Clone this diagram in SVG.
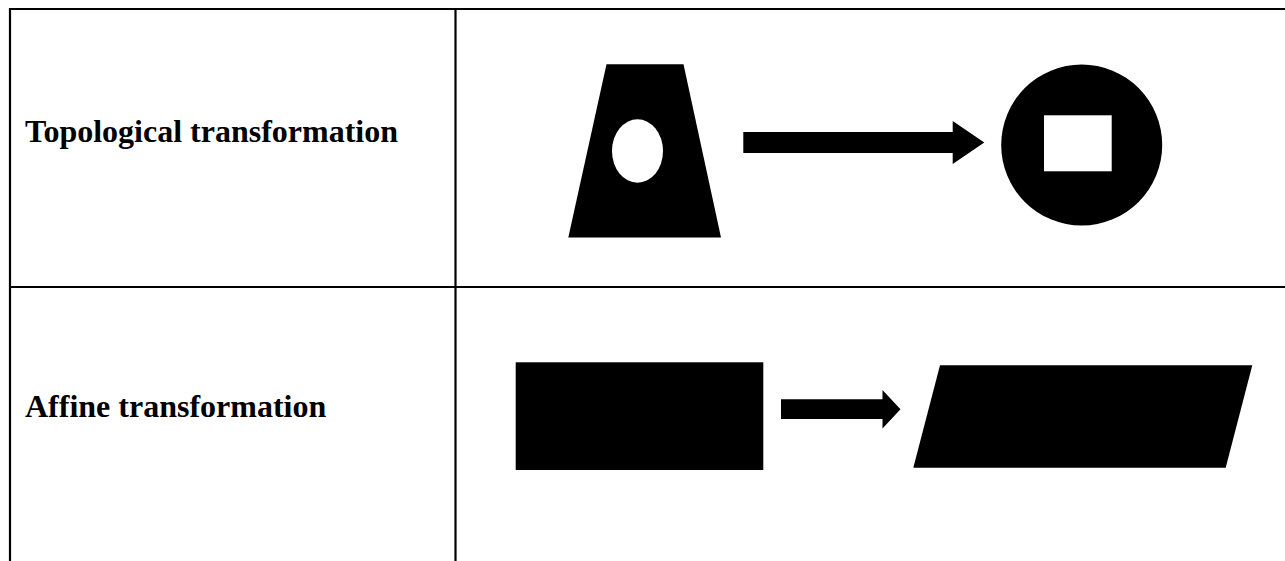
<svg xmlns="http://www.w3.org/2000/svg" width="1285" height="561" viewBox="0 0 1285 561">
<style>
.grid{stroke:#000;stroke-width:2.2;fill:none}
.lbl{font-family:"Liberation Serif","Times New Roman",serif;font-weight:bold;font-size:32px;fill:#000}
.shape{fill:#000}
.hole{fill:#fff}
</style>
<rect width="1285" height="561" fill="#fff"/>
<g id="table">
<line class="grid" x1="9" y1="9" x2="1285" y2="9"/>
<line class="grid" x1="10" y1="8" x2="10" y2="561"/>
<line class="grid" x1="455.5" y1="8" x2="455.5" y2="561"/>
<line class="grid" x1="9" y1="287" x2="1285" y2="287"/>
</g>
<g id="label-topological">
<text class="lbl" x="25" y="142">Topological transformation</text>
</g>
<g id="label-affine">
<text class="lbl" x="25" y="417">Affine transformation</text>
</g>
<g id="trapezoid">
<path class="shape" d="M606.5 64.3 L683.5 64.3 L721 237.5 L568.3 237.5 Z"/>
<ellipse class="hole" cx="637.5" cy="151" rx="25.5" ry="31.7"/>
</g>
<g id="circle">
<circle class="shape" cx="1081.7" cy="145" r="80.5"/>
<rect class="hole" x="1044" y="115.3" width="67.7" height="56"/>
</g>
<g id="rectangle">
<rect class="shape" x="515.7" y="362.3" width="247.6" height="107.7"/>
</g>
<g id="parallelogram">
<path class="shape" d="M940 365.3 L1252.3 365.3 L1225.7 467.7 L913.3 467.7 Z"/>
</g>
<g id="connectors">
<path class="shape" d="M743.3 132 L952.7 132 L952.7 121 L984.3 142.5 L952.7 164 L952.7 153 L743.3 153 Z"/>
<path class="shape" d="M781 399.3 L882.5 399.3 L882.5 390 L900.5 409.3 L882.5 428.5 L882.5 419 L781 419 Z"/>
</g>
</svg>
